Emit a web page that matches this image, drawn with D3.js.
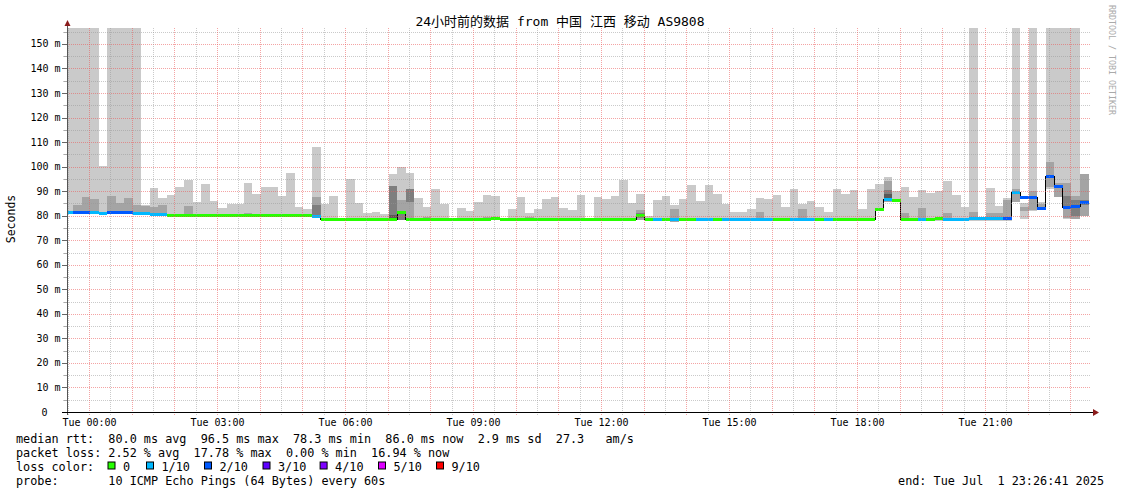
<!DOCTYPE html>
<html><head><meta charset="utf-8">
<script src="https://cdn.jsdelivr.net/npm/d3@7"></script>
<style>html,body{margin:0;padding:0;background:#fff;}svg{display:block}</style>
</head><body><svg id="c" width="1121" height="494"></svg>
<script>
// ---------------- data ----------------
const title = "24小时前的数据 from 中国 江西 移动 AS9808";
const yLabel = "Seconds";
const credit = "RRDTOOL / TOBI OETIKER";

// 12-minute steps
const median = [
  81.4,81.5,81.7,81.4,81.2,81.6,81.4,81.4,81.2,81.0,80.7,80.5,
  80.3,80.3,80.3,80.3,80.3,80.3,80.3,80.3,80.3,80.3,80.3,80.3,80.3,80.3,80.3,80.3,80.3,
  79.9,
  78.5,78.5,78.5,78.5,78.5,78.5,78.5,78.5,78.5,
  81.5,
  78.5,78.5,78.5,78.5,78.5,78.5,78.5,78.5,78.5,78.5,
  78.9,
  78.5,78.5,78.5,78.5,78.5,78.5,78.5,78.5,78.5,78.5,78.5,78.5,78.5,78.5,78.5,78.5,
  80.3,78.5,
  78.6,78.5,78.6,78.5,78.5,78.6,78.6,78.5,78.6,78.6,78.6,78.6,78.6,78.6,78.5,78.5,78.6,78.6,78.6,78.5,78.6,
  78.5,78.5,78.5,78.5,78.5,
  82.6,87.0,86.3,78.5,78.5,78.6,78.5,79.0,78.6,78.6,78.8,78.9,78.9,78.9,78.9,79.2,
  89.7,87.8,87.5,83.3,96.3,92.2,83.7,84.1,85.6
];
// lost pings (of 10) per step
const loss = [
  1,2,2,1,1,2,2,2,1,1,1,1,
  0,0,0,0,0,0,0,0,0,0,0,0,0,0,0,0,0,
  1,
  0,0,0,0,0,0,0,0,0,0,0,0,0,0,0,0,0,0,0,0,0,0,0,0,0,0,0,0,0,0,0,0,0,0,0,0,0,0,0,
  1,0,1,0,0,1,1,0,1,1,1,1,1,1,0,0,1,1,1,0,1,
  0,0,0,0,0,
  0,1,0,0,0,1,0,0,1,1,1,1,1,1,1,2,1,2,2,2,2,2,2,2,2
];
// outer smoke (slowest / fastest ping) per step, ms
const smokeHi = [
  160,160,160,160,100.3,160,160,160,160,84.5,
  91.4,87.2,88.4,91.7,94.6,85.7,92.9,86.0,83.2,84.8,
  84.8,93.3,88.9,91.7,91.7,88.0,97.4,83.5,82.7,108.0,
  84.8,88.0,79.0,95.0,85.2,81.3,81.5,80.7,97.1,99.9,
  97.4,87.2,83.5,90.9,84.9,79.0,83.2,82.1,85.6,88.4,
  88.0,79.0,82.7,87.6,81.3,82.7,86.8,87.6,83.2,82.3,
  88.4,79.0,87.6,86.8,88.0,94.6,85.2,88.9,79.9,86.4,
  88.0,84.4,86.8,92.5,86.0,92.5,88.9,84.7,81.7,81.5,
  82.7,87.2,86.8,88.4,83.5,90.9,84.8,86.0,83.5,81.7,
  90.9,88.9,90.5,82.7,90.9,92.9,95.8,90.1,91.7,87.6,
  90.5,89.3,90.1,94.2,88.4,83.7,160,79.5,91.3,84.0,
  87.2,160,85.1,160,85.7,160,160,160,160,97.0
];
const smokeLo = [
  80.6,80.6,80.6,80.6,80.6,80.6,80.6,80.6,80.6,80.6,80.6,80.6,
  79.8,79.8,79.8,79.8,79.8,79.8,79.8,79.8,79.8,79.8,79.8,79.8,79.8,79.8,79.8,79.8,79.8,
  79.3,
  78.0,78.0,78.0,78.0,78.0,78.0,78.0,78.0,78.0,
  78.3,
  78.0,78.0,78.0,78.0,78.0,78.0,78.0,78.0,78.0,78.0,
  78.4,
  78.0,78.0,78.0,78.0,78.0,78.0,78.0,78.0,78.0,78.0,78.0,78.0,78.0,78.0,78.0,78.0,
  78.3,
  77.9,77.9,77.9,77.9,77.9,77.9,77.9,77.9,77.9,77.9,77.9,77.9,77.9,77.9,77.9,77.9,77.9,77.9,77.9,77.9,77.9,77.9,77.9,77.9,77.9,77.9,77.9,
  82.0,85.7,85.8,
  77.9,77.9,77.9,77.9,77.9,77.9,77.9,77.9,77.9,77.9,77.9,77.9,77.9,
  85.7,78.7,82.0,83.0,91.0,87.5,78.7,78.5,79.9
];
// inner smoke bands: [step, low ms, high ms]
const band2 = [
  [1,80.8,84.4],[2,80.8,87.6],[3,80.8,86.8],[5,80.8,88.0],[6,80.8,85.2],[7,80.8,87.2],
  [8,80.8,84.4],[9,80.5,84.0],[10,80.3,83.6],[11,80.0,84.5],[14,79.9,84.0],[21,79.8,81.0],
  [29,79.5,87.5],[39,79.0,86.4],[40,79.0,90.9],[42,78.5,79.3],[49,78.4,79.5],[54,78.5,79.3],
  [59,78.5,79.2],[67,78.3,82.3],[71,77.6,82.7],[81,78.7,81.7],[86,78.7,82.7],[96,85.7,94.2],
  [98,77.9,81.1],[100,77.9,83.2],[103,78.3,81.1],[106,78.5,81.7],[108,78.5,81.0],[109,78.5,81.0],
  [110,78.7,86.4],[111,85.7,90.9],[112,81.9,83.7],[113,82.3,90.1],[114,83.3,84.6],
  [115,91.6,101.9],[116,87.8,93.2],[117,78.9,93.2],[118,78.7,88.2],[119,80.0,97.0]
];
const band3 = [
  [29,79.5,84.5],[38,79.0,92.1],[39,78.3,81.1],[40,85.7,90.9],[67,79.0,81.1],
  [96,86.5,90.6],[117,83.7,88.2],[118,80.0,86.5],[119,84.4,86.4]
];
const band4 = [[38,78.6,80.3],[96,87.0,88.7]];

const yTicks = [0,10,20,30,40,50,60,70,80,90,100,110,120,130,140,150];
const yTickLabels = ["0","10 m","20 m","30 m","40 m","50 m","60 m","70 m","80 m","90 m","100 m","110 m","120 m","130 m","140 m","150 m"];
const xTickHours = [0,3,6,9,12,15,18,21];
const xTickLabels = ["Tue 00:00","Tue 03:00","Tue 06:00","Tue 09:00","Tue 12:00","Tue 15:00","Tue 18:00","Tue 21:00"];

const lossLevels = [0,1,2,3,4,5,9];
const lossLabels = ["0","1/10","2/10","3/10","4/10","5/10","9/10"];
const lossColors = ["#26ff00","#00b8ff","#0059ff","#5e00ff","#7e00ff","#dd00ff","#ff0000"];

const rttHead = "median rtt:";
const rttStats = ["80.0 ms avg","96.5 ms max","78.3 ms min","86.0 ms now","2.9 ms sd","27.3"];
const rttUnit = "am/s";
const lossHead = "packet loss:";
const lossStats = ["2.52 % avg","17.78 % max","0.00 % min","16.94 % now"];
const colorHead = "loss color:";
const probeHead = "probe:";
const probeText = "10 ICMP Echo Pings (64 Bytes) every 60s";
const endText = "end: Tue Jul  1 23:26:41 2025";

// time axis in hours relative to Tue 00:00
const domainHours = [-0.5273, 23.4727];
const firstStepHour = -0.585, stepHours = 0.2;
const yMax = 156.5;

// ---------------- drawing ----------------
const svg = d3.select("#c");
const mono = "'DejaVu Sans Mono','Noto Sans CJK SC',monospace";
const L = 67, R = 1091, T = 28, B = 412;
const x = d3.scaleLinear().domain(domainHours).range([L, R]);
const y = d3.scaleLinear().domain([0, yMax]).range([B, T]);

svg.append("rect").attr("width",1121).attr("height",494).attr("fill","#fff");
svg.append("clipPath").attr("id","clip").append("rect")
  .attr("x",L).attr("y",T).attr("width",R-L).attr("height",B-T);

const plot = svg.append("g").attr("clip-path","url(#clip)");
const steps = d3.range(median.length);
const t0 = i => firstStepHour + i*stepHours;

function drawBand(data, color){
  plot.append("g").attr("shape-rendering","crispEdges").selectAll("rect").data(data).join("rect")
    .attr("x", d => x(t0(d[0])))
    .attr("width", d => x(t0(d[0])+stepHours) - x(t0(d[0])))
    .attr("y", d => y(d[2]))
    .attr("height", d => Math.max(0, y(d[1]) - y(d[2])))
    .attr("fill", color);
}
drawBand(steps.map(i => [i, smokeLo[i], smokeHi[i]]), "#cacaca");
drawBand(band2, "#a4a4a4");
drawBand(band3, "#7e7e7e");
drawBand(band4, "#585858");

// grid
const grid = svg.append("g").attr("shape-rendering","crispEdges");
const hLines = d3.range(5, yMax, 5);
grid.selectAll("line.h").data(hLines).join("line")
  .attr("x1", L-4).attr("x2", R)
  .attr("y1", d => Math.round(y(d))+0.5).attr("y2", d => Math.round(y(d))+0.5)
  .attr("stroke", d => d%10===0 ? "rgba(235,90,90,0.55)" : "rgba(150,150,150,0.5)")
  .attr("stroke-dasharray","1,1");
const vLines = d3.range(-0.5, domainHours[1], 0.5).filter(h => h > domainHours[0]);
grid.selectAll("line.v").data(vLines).join("line")
  .attr("x1", d => Math.floor(x(d))+0.5).attr("x2", d => Math.floor(x(d))+0.5)
  .attr("y1", T).attr("y2", B+3)
  .attr("stroke", d => Number.isInteger(d) ? "rgba(235,90,90,0.55)" : "rgba(150,150,150,0.5)")
  .attr("stroke-dasharray","1,1");
// y ticks
grid.selectAll("line.yt").data(hLines.concat([0])).join("line")
  .attr("x1", d => d%10===0 ? L-5 : L-3).attr("x2", L)
  .attr("y1", d => Math.round(y(d))+0.5).attr("y2", d => Math.round(y(d))+0.5)
  .attr("stroke", d => d%10===0 ? "#666" : "#aaa");

// median: black step line + loss-coloured bars
const pts = steps.map(i => [t0(i), median[i]]);
pts.push([t0(median.length), median[median.length-1]]);
plot.append("path")
  .attr("d", d3.line().x(d => x(d[0])).y(d => Math.round(y(d[1]))+0.5).curve(d3.curveStepAfter)(pts))
  .attr("fill","none").attr("stroke","#000").attr("stroke-width",1).attr("shape-rendering","crispEdges");
plot.append("g").attr("shape-rendering","crispEdges").selectAll("rect").data(steps).join("rect")
  .attr("x", i => x(t0(i)))
  .attr("width", i => x(t0(i)+stepHours) - x(t0(i)))
  .attr("y", i => Math.round(y(median[i])) - 1)
  .attr("height", 3)
  .attr("fill", i => lossColors[lossLevels.indexOf(loss[i])]);

// axes
svg.append("line").attr("x1",L+0.5).attr("x2",L+0.5).attr("y1",B+3).attr("y2",24)
  .attr("stroke","#555").attr("shape-rendering","crispEdges");
svg.append("line").attr("x1",L-5).attr("x2",1094).attr("y1",B+0.5).attr("y2",B+0.5)
  .attr("stroke","#000").attr("shape-rendering","crispEdges");
svg.append("path").attr("d",`M${L-2.5},26 L${L+3.5},26 L${L+0.5},20 Z`).attr("fill","#8b1c1c");
svg.append("path").attr("d",`M1093,409 L1093,416 L1099,412.5 Z`).attr("fill","#8b1c1c");

// axis labels
svg.append("g").selectAll("text").data(yTicks).join("text")
  .attr("x", (d,i) => i===0 ? 47.5 : 60.5)
  .attr("y", d => y(d) + 3.5)
  .attr("text-anchor","end")
  .attr("font-family",mono).attr("font-size","10px").attr("fill","#000")
  .text((d,i) => yTickLabels[i]);
svg.append("g").selectAll("text").data(xTickHours).join("text")
  .attr("x", d => x(d))
  .attr("y", 426)
  .attr("text-anchor","middle")
  .attr("font-family",mono).attr("font-size","10px").attr("fill","#000")
  .text((d,i) => xTickLabels[i]);

svg.append("text").attr("transform","translate(15,219) rotate(-90)")
  .attr("text-anchor","middle").attr("font-family",mono).attr("font-size","11.5px").attr("fill","#000")
  .text(yLabel);
svg.append("text").attr("transform","translate(1108.5,5) rotate(90)")
  .attr("text-anchor","start").attr("font-family",mono).attr("font-size","8.3px").attr("fill","#aaa")
  .text(credit);
svg.append("text").attr("x",560).attr("y",26).attr("text-anchor","middle")
  .attr("font-family",mono).attr("font-size","13px").attr("fill","#000").text(title);

// legend (monospace columns)
const lg = svg.append("g").attr("font-family",mono).attr("font-size","11.8px").attr("fill","#000")
  .style("white-space","pre");
const lineY = [442.5, 456.5, 470.5, 484.5];
const addLine = (s, yy, xx=16) => lg.append("text").attr("x",xx).attr("y",yy)
  .attr("xml:space","preserve").text(s);
addLine(rttHead + "  " + rttStats.join("  ") + "   " + rttUnit, lineY[0]);
addLine(lossHead + " " + lossStats.join("  "), lineY[1]);
addLine(colorHead, lineY[2]);
const boxX = [107.5, 146, 204, 262.5, 319.6, 378, 436];
lossLabels.forEach((s,i) => {
  lg.append("rect").attr("x",boxX[i]+0.5).attr("y",lineY[2]-8.5).attr("width",7).attr("height",7)
    .attr("fill",lossColors[i]).attr("stroke","#000").attr("stroke-width",1);
  lg.append("text").attr("x",boxX[i]+15.5).attr("y",lineY[2]).text(s);
});
addLine(probeHead + "       " + probeText, lineY[3]);
lg.append("text").attr("x",1104).attr("y",lineY[3]).attr("text-anchor","end")
  .attr("xml:space","preserve").text(endText);
</script></body></html>
